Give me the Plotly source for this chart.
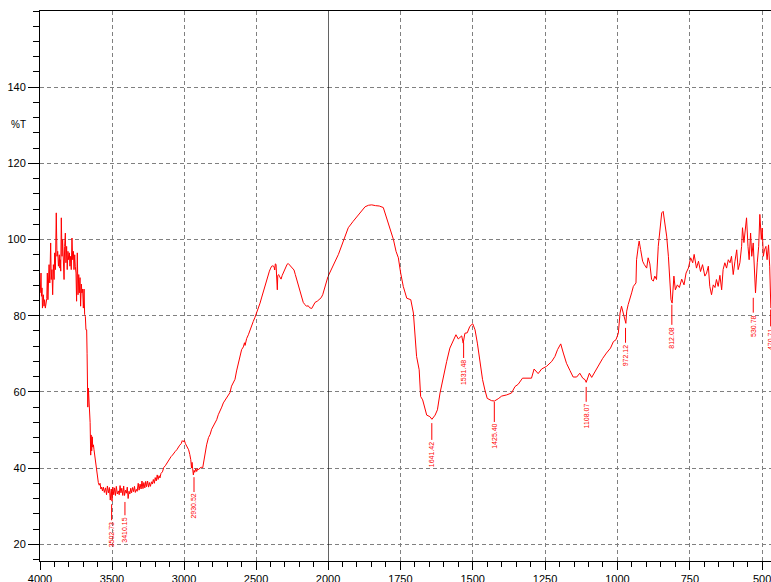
import plotly.graph_objects as go

# IR spectrum: wavenumber (cm-1) and %T
wavenumber = [
    3998, 3993, 3990, 3986, 3983, 3977, 3972, 3968, 3963, 3958, 3953, 3949, 3945, 3937, 3932,
    3926, 3922, 3917, 3912, 3907, 3902, 3898, 3893, 3887, 3882, 3877, 3872, 3866, 3862, 3859,
    3856, 3852, 3847, 3843, 3838, 3833, 3829, 3824, 3820, 3815, 3811, 3806, 3801, 3796, 3792,
    3787, 3783, 3778, 3773, 3768, 3764, 3759, 3755, 3750, 3746, 3741, 3736, 3731, 3727, 3722,
    3718, 3713, 3709, 3704, 3699, 3694, 3690, 3685, 3681, 3676, 3673, 3671, 3668, 3664, 3660,
    3657, 3652, 3648, 3645, 3641, 3637, 3634, 3629, 3625, 3621, 3618, 3612, 3607, 3601, 3595,
    3589, 3583, 3577, 3572, 3566, 3560, 3553, 3545, 3538, 3532, 3525, 3518, 3512, 3505, 3500,
    3494, 3488, 3482, 3476, 3470, 3463, 3456, 3450, 3444, 3438, 3432, 3425, 3419, 3413, 3406,
    3400, 3394, 3388, 3382, 3376, 3370, 3364, 3357, 3350, 3344, 3338, 3331, 3325, 3318, 3312,
    3305, 3298, 3292, 3285, 3279, 3272, 3266, 3260, 3253, 3246, 3240, 3233, 3226, 3220, 3213,
    3206, 3200, 3193, 3186, 3180, 3173, 3167, 3160, 3150, 3140, 3130, 3120, 3110, 3100, 3090,
    3080, 3070, 3060, 3050, 3040, 3030, 3020, 3012, 3005, 2998, 2990, 2982, 2975, 2968, 2960,
    2953, 2948, 2944, 2940, 2935, 2930, 2925, 2918, 2912, 2905, 2898, 2890, 2880, 2870, 2862,
    2852, 2843, 2830, 2819, 2808, 2796, 2785, 2773, 2762, 2750, 2738, 2727, 2715, 2704, 2692,
    2681, 2670, 2657, 2646, 2635, 2623, 2612, 2600, 2588, 2580, 2576, 2565, 2553, 2542, 2530,
    2519, 2507, 2495, 2484, 2472, 2460, 2449, 2437, 2426, 2415, 2407, 2398, 2391, 2383, 2375,
    2370, 2366, 2361, 2357, 2352, 2349, 2343, 2335, 2326, 2318, 2310, 2300, 2292, 2284, 2276,
    2265, 2252, 2244, 2236, 2227, 2218, 2208, 2199, 2191, 2183, 2172, 2160, 2150, 2137, 2128,
    2113, 2105, 2098, 2090, 2075, 2060, 2048, 2037, 2026, 2014, 2005, 2000,
    1982, 1964, 1947, 1930, 1913, 1889, 1872, 1860, 1849, 1836, 1823, 1809, 1797, 1786, 1774,
    1765, 1757, 1749, 1740, 1728, 1714, 1705, 1700, 1694, 1685, 1680, 1673, 1665, 1659, 1648,
    1641, 1630, 1622, 1613, 1602, 1590, 1579, 1567, 1558, 1550, 1538, 1533, 1527, 1519, 1510,
    1500, 1492, 1484, 1475, 1466, 1458, 1450, 1435, 1425, 1412, 1400, 1383, 1366, 1354, 1343,
    1328, 1297, 1288, 1274, 1262, 1245, 1227, 1216, 1207, 1196, 1187, 1176, 1164, 1153, 1141,
    1130, 1120, 1112, 1108, 1097, 1089, 1078, 1066, 1051, 1038, 1024, 1014, 1005, 997, 991,
    986, 980, 974, 971, 968, 963, 951, 945, 936, 934, 928, 925, 920, 913, 907,
    899, 894, 888, 882, 876, 871, 865, 859, 853, 847, 842, 836, 830, 824, 819,
    815, 811, 805, 800, 793, 786, 778, 770, 763, 755, 747, 740, 735, 727, 720,
    713, 706, 698, 692, 686, 681, 675, 669, 663, 658, 652, 646, 640, 635, 629,
    623, 617, 611, 606, 600, 594, 588, 583, 577, 571, 568, 563, 559, 554, 549,
    545, 540, 536, 531, 526, 523, 517, 512, 508, 503, 500, 496, 492, 487, 483,
    478, 474, 472, 470,
]
transmittance = [
    86.0, 91.2, 85.1, 87.3, 82.0, 85.5, 82.5, 84.2, 82.0, 83.8, 84.5, 91.2, 84.2, 93.4, 88.6,
    99.1, 89.5, 92.1, 85.5, 93.4, 89.5, 96.5, 92.1, 107.0, 95.6, 96.9, 93.0, 96.0, 92.5, 94.7,
    91.7, 105.7, 95.6, 100.0, 94.7, 89.5, 98.2, 101.7, 93.9, 98.2, 92.1, 96.9, 94.7, 96.5, 93.0,
    95.6, 92.1, 100.4, 94.7, 96.9, 92.1, 96.0, 93.0, 91.2, 83.8, 96.5, 85.5, 90.8, 86.0, 90.0,
    82.5, 88.3, 86.0, 87.0, 82.0, 87.0, 80.3, 79.8, 76.3, 76.3, 70.0, 63.0, 56.0, 61.0, 58.0,
    54.4, 52.0, 43.4, 48.7, 44.5, 48.2, 45.5, 46.1, 44.8, 43.5, 42.1, 40.3, 39.0, 37.7, 36.2,
    35.5, 36.0, 34.5, 35.0, 34.0, 35.0, 33.6, 34.8, 33.0, 35.3, 33.5, 34.9, 31.6, 34.5, 31.3,
    35.0, 33.0, 34.8, 32.8, 35.2, 33.2, 34.0, 33.0, 35.4, 33.5, 34.7, 32.8, 35.3, 32.8, 34.2,
    33.4, 35.0, 32.0, 33.9, 33.2, 34.7, 33.5, 34.9, 33.8, 35.2, 33.6, 34.4, 33.9, 36.0, 34.2,
    35.8, 34.5, 36.6, 34.6, 36.2, 34.8, 36.5, 35.1, 36.6, 35.0, 36.2, 35.2, 36.4, 35.8, 37.0,
    36.0, 37.5, 36.6, 38.2, 37.0, 38.0, 37.4, 38.6, 39.0, 40.2, 40.6, 41.3, 42.0, 42.6, 43.0,
    43.4, 44.0, 44.4, 44.8, 45.5, 46.0, 46.4, 47.2, 46.9, 47.3, 46.4, 45.8, 45.3, 44.8, 43.6,
    42.2, 40.0, 41.5, 39.8, 38.2, 39.4, 38.9, 39.9, 39.1, 39.8, 39.6, 40.0, 40.2, 40.1, 42.0,
    44.5, 46.1, 48.0, 48.8, 50.2, 51.0, 52.0, 52.7, 54.0, 54.8, 56.0, 57.1, 57.8, 58.4, 59.4,
    59.8, 61.5, 62.6, 63.3, 65.5, 67.5, 69.0, 71.1, 71.8, 72.9, 72.2, 74.0, 75.0, 76.3, 77.5,
    78.5, 79.6, 80.7, 82.0, 83.3, 84.9, 86.4, 88.0, 89.5, 91.0, 91.7, 92.5, 93.0, 93.1, 92.9,
    92.0, 93.6, 93.5, 91.5, 86.8, 90.5, 90.8, 90.2, 89.6, 90.6, 91.3, 92.5, 93.2, 93.5, 93.7,
    93.2, 92.8, 92.4, 92.0, 90.8, 89.5, 88.0, 86.8, 85.7, 84.6, 83.5, 82.9, 82.5, 82.6, 82.1,
    81.9, 82.5, 83.3, 83.5, 83.8, 84.2, 84.7, 85.5, 86.8, 88.2, 89.5, 90.3,
    93.0, 96.1, 99.6, 103.1, 104.8, 107.0, 108.6, 109.0, 109.1, 108.9, 108.8, 108.4, 105.3, 102.6, 100.0,
    96.9, 95.2, 91.2, 87.7, 84.6, 84.2, 80.7, 74.6, 69.3, 65.8, 58.8, 57.9, 55.3, 53.9, 53.5,
    52.8, 53.9, 55.3, 59.7, 64.0, 68.0, 71.5, 73.7, 75.0, 73.9, 74.7, 72.8, 75.4, 75.5, 77.2,
    77.9, 76.3, 72.8, 67.5, 63.2, 60.5, 58.3, 57.7, 57.6, 58.2, 58.9, 59.2, 59.7, 61.4, 62.0,
    63.6, 63.6, 66.0, 64.8, 66.0, 66.7, 68.0, 69.3, 71.1, 72.6, 70.2, 67.5, 65.6, 63.9, 63.9,
    64.9, 63.6, 63.2, 62.5, 64.9, 63.8, 65.3, 67.1, 68.8, 70.2, 71.5, 73.2, 73.7, 75.4, 80.7,
    82.5, 80.8, 78.9, 78.0, 81.2, 82.9, 86.0, 87.7, 88.6, 94.7, 98.2, 99.6, 97.4, 94.3, 93.4,
    92.5, 95.2, 93.6, 89.5, 89.1, 90.4, 89.5, 98.2, 102.6, 107.0, 107.4, 104.4, 100.9, 95.6, 89.5,
    84.2, 83.3, 90.4, 86.8, 88.1, 87.4, 89.6, 88.1, 91.2, 92.5, 95.2, 93.9, 96.1, 92.5, 94.3,
    91.6, 93.4, 90.4, 91.2, 93.0, 87.7, 85.5, 88.1, 87.4, 89.5, 87.7, 90.6, 86.8, 92.1, 93.9,
    92.5, 94.7, 93.9, 95.6, 90.8, 94.3, 97.3, 92.1, 93.9, 98.2, 103.1, 99.2, 102.6, 105.7, 98.2,
    94.7, 101.7, 95.6, 99.1, 89.5, 86.0, 93.9, 98.2, 106.6, 100.0, 103.0, 95.6, 97.3, 98.2, 94.7,
    98.6, 93.0, 88.0, 82.0,
]

# picked peaks: position, start and end of the marker line (%T)
peak_wn = [3502.73, 3410.15, 2930.52, 1641.42, 1531.48, 1425.40, 1108.07, 972.12, 812.08, 530.78, 470.71]
peak_top = [30.5, 31.1, 37.6, 51.8, 72.9, 57.4, 61.3, 76.8, 82.9, 84.7, 81.6]
peak_bottom = [26.3, 27.6, 33.7, 47.4, 68.9, 52.1, 57.4, 72.9, 77.6, 80.8, 77.2]

x_ticks_left = [4000, 3500, 3000, 2500]
x_ticks_right = [2000, 1750, 1500, 1250, 1000, 750, 500]
y_ticks = [20, 40, 60, 80, 100, 120, 140]

SPLIT = 2000
RED = '#ff0000'
GRID = '#808080'
DASH = '4px,3px'
FONT = 'Liberation Sans, Arial, sans-serif'

fig = go.Figure()

left = [(w, t) for w, t in zip(wavenumber, transmittance) if w >= SPLIT]
right = [(w, t) for w, t in zip(wavenumber, transmittance) if w <= SPLIT]

for pts, xa in [(left, 'x'), (right, 'x2')]:
    fig.add_trace(go.Scatter(
        x=[p[0] for p in pts], y=[p[1] for p in pts],
        mode='lines', line=dict(color=RED, width=1),
        xaxis=xa, yaxis='y', hoverinfo='skip', showlegend=False
    ))

# peak marker lines + rotated labels
for xa, keep in [('x', lambda w: w >= SPLIT), ('x2', lambda w: w < SPLIT)]:
    xs, ys = [], []
    for w, a, b in zip(peak_wn, peak_top, peak_bottom):
        if keep(w):
            xs += [w, w, None]
            ys += [a, b, None]
            fig.add_annotation(
                x=w, y=b, xref=xa, yref='y', text=f'{w:.2f}',
                textangle=-90, xanchor='center', yanchor='top',
                showarrow=False, font=dict(family=FONT, size=7, color=RED)
            )
    fig.add_trace(go.Scatter(
        x=xs, y=ys, mode='lines', line=dict(color=RED, width=1),
        xaxis=xa, yaxis='y', hoverinfo='skip', showlegend=False
    ))

xcommon = dict(
    showgrid=True, gridcolor=GRID, griddash=DASH, gridwidth=1,
    showline=True, linecolor='black', linewidth=1, mirror=True,
    ticks='outside', ticklen=8, tickcolor='black',
    zeroline=False, anchor='y', automargin=False, ticklabeloverflow='allow',
    tickfont=dict(family=FONT, size=11, color='black'),
)

fig.update_layout(
    width=771, height=582,
    margin=dict(l=40, r=0, t=11, b=21),
    paper_bgcolor='white', plot_bgcolor='white',
    showlegend=False,
    xaxis=dict(
        domain=[0, 0.394], range=[4000, SPLIT],
        tickmode='array', tickvals=x_ticks_left,
        minor=dict(tickmode='linear', tick0=SPLIT, dtick=100, ticks='outside',
                   ticklen=5, tickcolor='black', showgrid=False),
        **xcommon
    ),
    xaxis2=dict(
        domain=[0.394, 1], range=[SPLIT, 469.5],
        tickmode='array', tickvals=x_ticks_right,
        minor=dict(tickmode='linear', tick0=500, dtick=50, ticks='outside',
                   ticklen=5, tickcolor='black', showgrid=False),
        **xcommon
    ),
    yaxis=dict(
        domain=[0, 1], range=[15.6, 160], anchor='x', automargin=False,
        tickmode='array', tickvals=y_ticks,
        showgrid=True, gridcolor=GRID, griddash=DASH, gridwidth=1,
        showline=True, linecolor='black', linewidth=1,
        ticks='outside', ticklen=11, tickcolor='black',
        minor=dict(tickmode='linear', tick0=0, dtick=4, ticks='outside',
                   ticklen=6, tickcolor='black', showgrid=False),
        zeroline=False,
        tickfont=dict(family=FONT, size=11, color='black'),
    ),
    shapes=[dict(type='line', xref='x2', x0=SPLIT, x1=SPLIT, yref='paper', y0=0, y1=1,
                 line=dict(color='black', width=1.2))],
)

fig.add_annotation(
    text='%T', xref='paper', yref='paper', x=-0.030, y=0.7945,
    xanchor='center', yanchor='middle', showarrow=False,
    font=dict(family=FONT, size=10, color='black')
)

# drop the default page margin so the figure fills the window exactly
fig.write_html(
    'out.html',
    config={'displayModeBar': False},
    post_script="document.body.style.margin='0';document.body.style.overflow='hidden';",
)
